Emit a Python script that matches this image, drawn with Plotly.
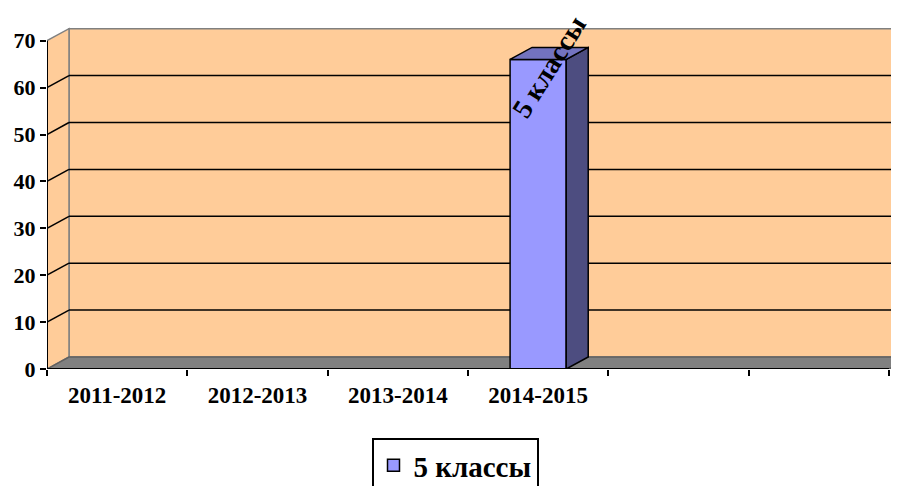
import plotly.graph_objects as go

# ---- data ----
categories = ["2011-2012", "2012-2013", "2013-2014", "2014-2015", "", ""]
values = [None, None, None, 66, None, None]
series_name = "5 классы"
y_ticks = [0, 10, 20, 30, 40, 50, 60, 70]

# ---- geometry / style ----
W, H = 899, 486
OFF = 8                    # page body margin offset
ML, MR, MT, MB = 47 - OFF, 0, 27 - OFF, H - (369 - OFF)
CAT_PX = 140.33           # pixel width of one category
PX_PER_UNIT = 4.69        # pixels per y unit
DEPTH_X_PX, DEPTH_Y_PX = 22, 12

n = len(categories)
plot_w = W - ML - MR
plot_h = H - MT - MB
x_min = -0.5
x_max = x_min + plot_w / CAT_PX
y_max = plot_h / PX_PER_UNIT
DX = DEPTH_X_PX / CAT_PX
DY = DEPTH_Y_PX / PX_PER_UNIT
x_end = x_min + n
y_top = max(y_ticks)
BAR_W = 0.4

FONT = "Times New Roman, Liberation Serif, serif"
WALL = "#FFCC99"
FLOOR = "#808080"
FRONT = "#9999FF"
SIDE = "#4D4D80"
TOP = "#7373BF"

fig = go.Figure()
fig.add_trace(go.Bar(
    x=list(range(n)), y=values, name=series_name, width=BAR_W,
    marker=dict(color=FRONT, line=dict(color="black", width=1.5)),
    showlegend=True,
))
# invisible trace to host the category label axis
fig.add_trace(go.Scatter(x=[0], y=[0], xaxis="x2", mode="markers",
                         marker=dict(opacity=0), showlegend=False, hoverinfo="skip"))

shapes = []
def poly(pts, fill, line_color, lw=1.5, layer="below"):
    path = "M " + " L ".join(f"{x},{y}" for x, y in pts) + " Z"
    shapes.append(dict(type="path", path=path, xref="x", yref="y",
                       fillcolor=fill, line=dict(color=line_color, width=lw), layer=layer))
def seg(x0, y0, x1, y1, color="black", lw=1.5, layer="below"):
    shapes.append(dict(type="line", x0=x0, y0=y0, x1=x1, y1=y1, xref="x", yref="y",
                       line=dict(color=color, width=lw), layer=layer))

# back wall
poly([(x_min + DX, DY), (x_end + DX + 1, DY), (x_end + DX + 1, y_top + DY),
      (x_min + DX, y_top + DY)], WALL, FLOOR)
# side wall
poly([(x_min, 0), (x_min + DX, DY), (x_min + DX, y_top + DY), (x_min, y_top)], WALL, FLOOR)
# floor
poly([(x_min, 0), (x_end, 0), (x_end + DX, DY), (x_min + DX, DY)], FLOOR, "#606060")
# gridlines
for v in y_ticks[1:-1]:
    seg(x_min, v, x_min + DX, v + DY)
    seg(x_min + DX, v + DY, x_end + DX + 1, v + DY)

# 3D faces for bars
for i, v in enumerate(values):
    if v is None:
        continue
    l, r = i - BAR_W / 2, i + BAR_W / 2
    poly([(r, 0), (r + DX, DY), (r + DX, v + DY), (r, v)], SIDE, "black", 1.5, "above")
    poly([(l, v), (r, v), (r + DX, v + DY), (l + DX, v + DY)], TOP, "black", 1.5, "above")

# axis lines
seg(x_min, 0, x_min, y_top, "black", 2, "above")
seg(x_min, 0, x_end, 0, "black", 2, "above")

annotations = []
for i, v in enumerate(values):
    if v is None:
        continue
    annotations.append(dict(x=i, y=v, text=f"<b>{series_name}</b>", showarrow=False,
                            textangle=-58, xshift=11, yshift=-7,
                            font=dict(family=FONT, size=28, color="black")))

fig.update_layout(
    width=W, height=H,
    margin=dict(l=ML, r=MR, t=MT, b=MB, autoexpand=False),
    paper_bgcolor="white", plot_bgcolor="white",
    shapes=shapes, annotations=annotations,
    showlegend=True,
    legend=dict(xref="container", x=(455 - OFF) / W, xanchor="center",
                yref="container", y=1 - (438 - OFF) / H, yanchor="top", orientation="h",
                bordercolor="black", borderwidth=2, bgcolor="white",
                font=dict(family=FONT, size=29, color="black", weight="bold")),
    xaxis=dict(range=[x_min, x_max], tickvals=[x_min + k for k in range(n + 1)],
               ticktext=[""] * (n + 1), ticks="outside", ticklen=6, tickwidth=2,
               tickcolor="black", showgrid=False, zeroline=False, showline=False,
               automargin=False, fixedrange=True),
    xaxis2=dict(range=[x_min, x_max], overlaying="x", side="bottom", anchor="y",
                tickvals=list(range(n)), ticktext=categories, ticks="",
                ticklabelstandoff=10, automargin=False,
                showgrid=False, zeroline=False, showline=False,
                tickfont=dict(family=FONT, size=23, color="black", weight="bold")),
    yaxis=dict(range=[0, y_max], tickvals=y_ticks, ticks="outside", ticklen=6, tickwidth=2,
               tickcolor="black", showgrid=False, zeroline=False, showline=False,
               automargin=False,
               tickfont=dict(family=FONT, size=22, color="black", weight="bold")),
)

fig.write_html("out.html")
